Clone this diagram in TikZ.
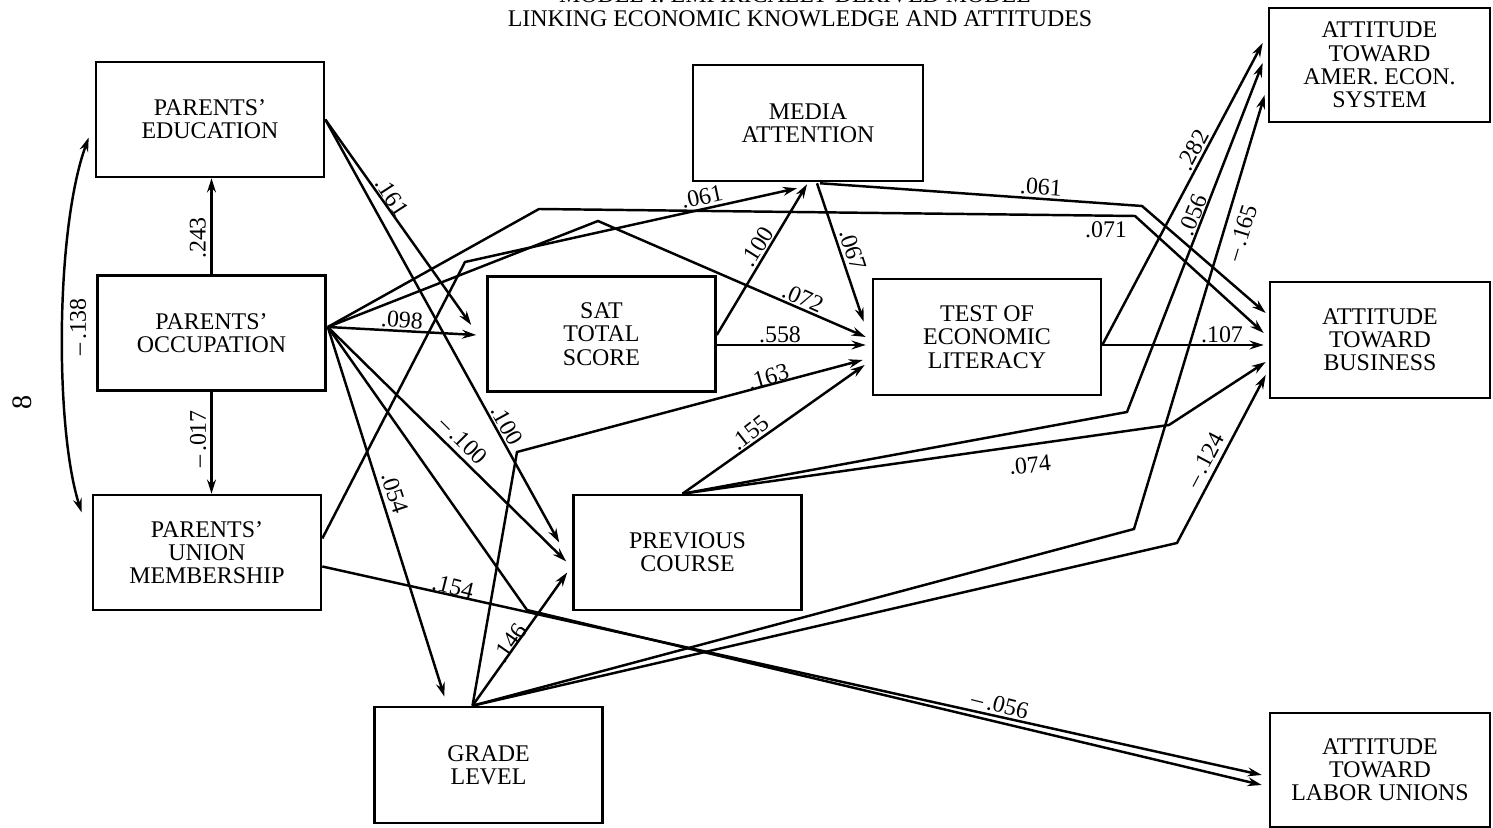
\documentclass[tikz,border=0pt]{standalone}
\usepackage{fontspec}
\setmainfont{Liberation Serif}
\usetikzlibrary{arrows.meta,calc}

\newcommand{\boxfont}{\fontsize{6.8}{6.6}\selectfont}

\begin{document}
\begin{tikzpicture}[x=0.01cm,y=-0.01cm,
                    box/.style={draw,line width=0.7pt,align=center,inner sep=0pt,font=\boxfont,
                                minimum width=2.28cm,minimum height=1.15cm},
                    link/.style={line width=0.7pt},
                    arr/.style={link,-{Stealth[length=4pt,width=2.5pt]}},
                    lbl/.style={font=\boxfont,inner sep=0pt}]

  \useasboundingbox (0,0) rectangle (1493,828);

  % title and page number
  \node[lbl,anchor=base] (title1) at (795,3) {MODEL I: EMPIRICALLY DERIVED MODEL};
  \node[lbl,anchor=base] (title2) at (800,27) {LINKING ECONOMIC KNOWLEDGE AND ATTITUDES};
  \node[font=\fontsize{8}{8}\selectfont,rotate=90,inner sep=0pt] (pageno) at (22,402) {8};

  % boxes
  \node[box] (edu)   at (210,119.5)  {PARENTS'\\EDUCATION};
  \node[box] (occ)   at (211.5,333)  {PARENTS'\\OCCUPATION};
  \node[box] (uni)   at (207,552.5)  {PARENTS'\\UNION\\MEMBERSHIP};
  \node[box] (sat)   at (601.5,334)  {SAT\\TOTAL\\SCORE};
  \node[box,minimum width=2.30cm,minimum height=1.16cm] (media) at (808,123) {MEDIA\\ATTENTION};
  \node[box,minimum height=1.16cm] (tel)   at (987,337)   {TEST OF\\ECONOMIC\\LITERACY};
  \node[box] (prev)  at (687.5,552.5) {PREVIOUS\\COURSE};
  \node[box,minimum height=1.16cm] (grade) at (488.5,765) {GRADE\\LEVEL};
  \node[box,minimum width=2.21cm,minimum height=1.14cm] (amer)  at (1379.5,65) {ATTITUDE\\TOWARD\\AMER. ECON.\\SYSTEM};
  \node[box,minimum width=2.20cm,minimum height=1.16cm] (bus)   at (1380,340) {ATTITUDE\\TOWARD\\BUSINESS};
  \node[box,minimum width=2.20cm,minimum height=1.14cm] (labor) at (1380,770) {ATTITUDE\\TOWARD\\LABOR UNIONS};

  % start points and bends
  \coordinate (eduout)  at (edu.east);
  \coordinate (occout)  at ($(occ.east)+(1,-6)$);
  \coordinate (uniup)   at ($(uni.east)+(0,-14)$);
  \coordinate (unilow)  at ($(uni.east)+(0,14)$);
  \coordinate (satout)  at ($(sat.east)+(0,1)$);
  \coordinate (telout)  at ($(tel.east)+(0,8)$);
  \coordinate (prevtop) at ($(prev.north)+(-5,0)$);
  \coordinate (gradetop) at ($(grade.north)+(-16,0)$);

  \coordinate (b071a) at (539,209);
  \coordinate (b071b) at (1135,216);
  \coordinate (b072)  at (598,221);
  \coordinate (b056)  at (527,610);
  \coordinate (b061a) at (465,262);
  \coordinate (b061b) at (1142,206);
  \coordinate (b163)  at (517,452);
  \coordinate (b056b) at (1127,412);
  \coordinate (b074)  at (1169,425);
  \coordinate (b165)  at (1134,529);
  \coordinate (b124)  at (1177,543);

  % parents
  \draw[arr] (occ.north) -- (occ.north |- edu.south);
  \draw[arr] (occ.south) -- (occ.south |- uni.north);
  \draw[link,{Stealth[length=4pt,width=2.5pt]}-{Stealth[length=4pt,width=2.5pt]}]
        ($(edu.west)+(-6,18)$) .. controls (55,230) and (55,430) .. ($(uni.west)+(-10,-40)$);

  \draw[arr] (eduout) -- ($(sat.west)+(-15,-9)$);
  \draw[arr] (eduout) -- ($(prev.west)+(-13,-10)$);

  \draw[arr] (occout) -- ($(sat.west)+(-10,1)$);
  \draw[arr] (occout) -- (b071a) -- (b071b) -- ($(bus.west)+(-5,-7)$);
  \draw[arr] (occout) -- (b072) -- ($(tel.west)+(-6,0)$);
  \draw[arr] (occout) -- ($(prev.west)+(-6,9)$);
  \draw[arr] (occout) -- (b056) -- ($(labor.west)+(-7,15)$);
  \draw[arr] (occout) -- ($(grade.north)+(-44,-9)$);

  \draw[arr] (uniup) -- (b061a) -- ($(media.south)+(-11,6)$);
  \draw[arr] (unilow) -- ($(labor.west)+(-7,5)$);

  % middle
  \draw[arr] (satout) -- ($(media.south)+(-1,2)$);
  \draw[arr] ($(sat.east)+(0,11)$) -- ($(tel.west)+(-6,8)$);
  \draw[arr] ($(media.south)+(9,1)$) -- ($(tel.north west)+(-8,44)$);
  \draw[arr] ($(media.south)+(12,1)$) -- (b061b) -- ($(bus.west)+(-3,-27)$);

  \draw[arr] (gradetop) -- (b163) -- ($(tel.west)+(-9,23)$);
  \draw[arr] (gradetop) -- ($(prev.west)+(-5,20)$);
  \draw[arr] (gradetop) -- (b165) -- ($(amer.west)+(-3,30)$);
  \draw[arr] (gradetop) -- (b124) -- ($(bus.west)+(-3,35)$);

  \draw[arr] (prevtop) -- ($(tel.west)+(-7,28)$);
  \draw[arr] (prevtop) -- (b056b) -- ($(amer.west)+(-5,-2)$);
  \draw[arr] (prevtop) -- (b074) -- ($(bus.west)+(-3,22)$);

  \draw[arr] (telout) -- ($(amer.west)+(-5,-22)$);
  \draw[arr] (telout) -- ($(telout -| bus.west)+(-5,0)$);

  % path coefficients
  \node[lbl,rotate=90]  (l243)  at (198,238)  {.243};
  \node[lbl,rotate=90]  (l017)  at (198,439)  {–\,.017};
  \node[lbl,rotate=90]  (l138)  at (78,327)   {–\,.138};
  \node[lbl,rotate=-57] (l161)  at (392,197)  {.161};
  \node[lbl,rotate=-4]  (l098)  at (402,320)  {.098};
  \node[lbl,rotate=12]  (l061a) at (702,197)  {.061};
  \node[lbl,rotate=58]  (l100a) at (757,247)  {.100};
  \node[lbl,rotate=-72] (l067)  at (853,250)  {.067};
  \node[lbl,rotate=-24] (l072)  at (803,298)  {.072};
  \node[lbl]            (l558)  at (780,335)  {.558};
  \node[lbl,rotate=-4]  (l061b) at (1041,187) {.061};
  \node[lbl]            (l071)  at (1106,230) {.071};
  \node[lbl,rotate=62]  (l282)  at (1193,150) {.282};
  \node[lbl,rotate=68]  (l056a) at (1193,215) {.056};
  \node[lbl,rotate=73]  (l165)  at (1242,233) {–\,.165};
  \node[lbl]            (l107)  at (1222,335) {.107};
  \node[lbl,rotate=16]  (l163)  at (768,377)  {.163};
  \node[lbl,rotate=38]  (l155)  at (750,433)  {.155};
  \node[lbl,rotate=6]   (l074)  at (1030,465) {.074};
  \node[lbl,rotate=62]  (l124)  at (1205,460) {–\,.124};
  \node[lbl,rotate=-61] (l100b) at (507,425)  {.100};
  \node[lbl,rotate=-45] (l100c) at (463,440)  {–\,.100};
  \node[lbl,rotate=-72] (l054)  at (395,493)  {.054};
  \node[lbl,rotate=-14] (l154)  at (453,587)  {.154};
  \node[lbl,rotate=55]  (l146)  at (510,643)  {.146};
  \node[lbl,rotate=-14] (l056b) at (1000,705) {–\,.056};

\end{tikzpicture}
\end{document}
